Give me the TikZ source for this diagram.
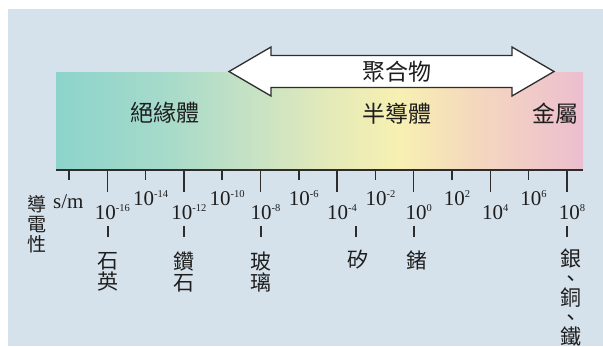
\documentclass[tikz,border=0pt]{standalone}
\usepackage{fontspec}
\setmainfont{Liberation Serif}
\newfontfamily\cjk{Noto Sans CJK TC}
\newcommand\tightlines{\lineskiplimit=-30pt\relax}
\definecolor{bg}{RGB}{214,226,235}
\definecolor{txt}{RGB}{30,30,30}
\definecolor{axisgray}{RGB}{45,45,45}
\definecolor{s0}{RGB}{140,212,203}
\definecolor{s1}{RGB}{165,218,202}
\definecolor{s2}{RGB}{200,226,196}
\definecolor{s3}{RGB}{228,234,184}
\definecolor{s4}{RGB}{247,240,178}
\definecolor{s5}{RGB}{244,215,190}
\definecolor{s6}{RGB}{236,190,208}
\pgfdeclarehorizontalshading{bandshade}{100bp}{color(0bp)=(s0); color(25bp)=(s0); color(35bp)=(s1); color(44bp)=(s2); color(51bp)=(s3); color(57.5bp)=(s4); color(65bp)=(s5); color(75bp)=(s6); color(100bp)=(s6)}
\tikzset{
  bandlabel/.style={font={\cjk\fontsize{23}{23}\selectfont}, text=txt, inner sep=0pt},
  matlabel/.style={font={\cjk\fontsize{21}{21}\selectfont\tightlines}, text=txt, inner sep=0pt, align=center},
  ticklabel/.style={font={\fontsize{21}{21}\selectfont}, text=txt, inner sep=0pt, anchor=base},
  tickline/.style={draw=axisgray, line width=1.5pt},
}
\begin{document}
\begin{tikzpicture}[x=1pt,y=-1pt]
\useasboundingbox (0,0) rectangle (603,346);
\fill[white] (0,0) rectangle (603,346);
\fill[bg] (8,9) rectangle (603,346);
\shade[shading=bandshade] (56,72) rectangle (583,170);
% double arrow
\draw[draw=axisgray, fill=white, line width=1.3pt, line join=miter]
  (229,71.5) -- (271,47) -- (271,55.5) -- (512,55.5) -- (512,47) -- (554,71.5)
  -- (512,96) -- (512,87.5) -- (271,87.5) -- (271,96) -- cycle;
\node[bandlabel] (poly) at (397,72) {聚合物};
\node[bandlabel] (insul) at (165,113) {絕緣體};
\node[bandlabel] (semi) at (397,114) {半導體};
\node[bandlabel] (metal) at (555,114) {金屬};
% axis
\draw[draw=axisgray, line width=2.5pt] (56,170) -- (583,170);
\foreach \i in {0,...,13}{
  \pgfmathsetmacro\tx{69+38.3*\i}
  \ifodd\i
    \draw[tickline] (\tx,170) -- (\tx,192);
  \else
    \draw[tickline] (\tx,170) -- (\tx,180);
  \fi
}
\foreach \i in {1,...,13}{
  \pgfmathsetmacro\tx{69+38.3*\i}
  \pgfmathtruncatemacro\e{-18+2*\i}
  \ifodd\i \def\ty{219}\else\def\ty{205}\fi
  \node[ticklabel] (t\i) at (\tx+5,\ty) {10\raisebox{7.5pt}{\fontsize{10.5}{10.5}\selectfont\e}};
}
\node[font={\fontsize{21}{21}\selectfont}, text=txt, inner sep=0pt, anchor=base west] (unit) at (53,208) {s/m};
\node[matlabel, font={\cjk\fontsize{19}{20}\selectfont\tightlines}] (cond) at (37,224) {導\\電\\性};
% dashes
\foreach \x in {108,184,261,356,414,567}{
  \draw[tickline] (\x,226) -- (\x,237);
}
\node[matlabel] (quartz) at (108,271.5) {石\\英};
\node[matlabel] (diamond) at (184,271.5) {鑽\\石};
\node[matlabel] (glass) at (261,271.5) {玻\\璃};
\node[matlabel] (si) at (358,260) {矽};
\node[matlabel] (ge) at (417,260) {鍺};
\node[matlabel, font={\cjk\fontsize{21}{19.5}\selectfont\tightlines}] (metals) at (571,298) {銀\\、\\銅\\、\\鐵};
\end{tikzpicture}
\end{document}
